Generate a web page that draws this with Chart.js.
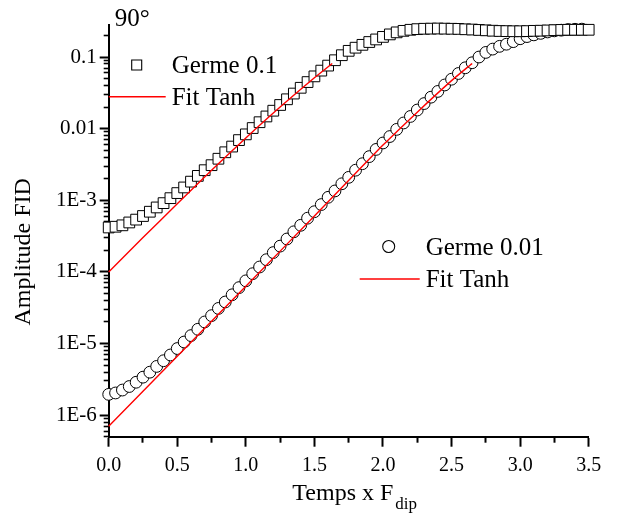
<!DOCTYPE html>
<html>
<head>
<meta charset="utf-8">
<script src="https://cdn.jsdelivr.net/npm/chart.js@4"></script>
<style>
  html, body { margin: 0; padding: 0; background: #fff; }
  #wrap { width: 634px; height: 516px; }
</style>
</head>
<body>
<div id="wrap"><canvas id="c" width="634" height="516"></canvas></div>
<script>
// ---- data ----
const temps = [0.00,0.05,0.10,0.15,0.20,0.25,0.30,0.35,0.40,0.45,
  0.50,0.55,0.60,0.65,0.70,0.75,0.80,0.85,0.90,0.95,
  1.00,1.05,1.10,1.15,1.20,1.25,1.30,1.35,1.40,1.45,
  1.50,1.55,1.60,1.65,1.70,1.75,1.80,1.85,1.90,1.95,
  2.00,2.05,2.10,2.15,2.20,2.25,2.30,2.35,2.40,2.45,
  2.50,2.55,2.60,2.65,2.70,2.75,2.80,2.85,2.90,2.95,
  3.00,3.05,3.10,3.15,3.20,3.25,3.30,3.35,3.40,3.45,
  3.50,3.55,3.60,3.65,3.70,3.75,3.80];

const germe01 = [4.17e-4,4.27e-4,4.47e-4,4.90e-4,5.37e-4,6.03e-4,6.92e-4,7.94e-4,9.12e-4,1.07e-3,
  1.26e-3,1.51e-3,1.82e-3,2.19e-3,2.63e-3,3.09e-3,3.80e-3,4.68e-3,5.62e-3,6.92e-3,
  8.32e-3,1.02e-2,1.23e-2,1.48e-2,1.78e-2,2.14e-2,2.57e-2,3.09e-2,3.72e-2,4.47e-2,
  5.37e-2,6.46e-2,7.59e-2,9.02e-2,0.106,0.122,0.135,0.148,0.162,0.176,
  0.191,0.207,0.221,0.232,0.240,0.245,0.248,0.249,0.250,0.249,
  0.248,0.247,0.244,0.242,0.239,0.236,0.233,0.231,0.230,0.229,
  0.229,0.230,0.232,0.233,0.235,0.237,0.239,0.240,0.240,0.240,
  0.240,0.240,0.239,0.238,0.238,0.238,0.238];

const germe001 = [1.95e-6,2.04e-6,2.24e-6,2.51e-6,2.88e-6,3.39e-6,3.98e-6,4.79e-6,5.75e-6,6.92e-6,
  8.51e-6,1.05e-5,1.29e-5,1.58e-5,2.00e-5,2.45e-5,3.09e-5,3.80e-5,4.79e-5,6.03e-5,
  7.50e-5,9.44e-5,1.17e-4,1.48e-4,1.86e-4,2.29e-4,2.88e-4,3.63e-4,4.47e-4,5.62e-4,
  6.92e-4,8.71e-4,1.10e-3,1.35e-3,1.70e-3,2.09e-3,2.63e-3,3.24e-3,4.07e-3,5.13e-3,
  6.31e-3,7.76e-3,9.77e-3,1.20e-2,1.48e-2,1.82e-2,2.24e-2,2.75e-2,3.31e-2,4.07e-2,
  4.90e-2,5.89e-2,7.08e-2,8.32e-2,0.100,0.116,0.129,0.141,0.151,0.164,
  0.180,0.193,0.204,0.214,0.224,0.232,0.237,0.242,0.244,0.245];

const fit1Temps = [0, 0.25, 0.5, 0.75, 1.0, 1.25, 1.5, 1.63];
const fit1Vals  = [1.0e-4, 3.02e-4, 8.91e-4, 2.63e-3, 7.41e-3, 2.00e-2, 5.13e-2, 8.13e-2];
const fit2Temps = [0, 0.5, 1.0, 1.5, 2.0, 2.25, 2.5, 2.65];
const fit2Vals  = [7.0e-7, 6.65e-6, 6.31e-5, 6.03e-4, 5.89e-3, 1.70e-2, 4.68e-2, 8.13e-2];

const xMajorTicks = [0.0, 0.5, 1.0, 1.5, 2.0, 2.5, 3.0, 3.5];
const xMinorTicks = [0.25, 0.75, 1.25, 1.75, 2.25, 2.75, 3.25];
const yMajorTicks = [1e-6, 1e-5, 1e-4, 1e-3, 0.01, 0.1];
const yMajorLabels = ['1E-6', '1E-5', '1E-4', '1E-3', '0.01', '0.1'];
const yMinorMult = [2, 3, 4, 5, 6, 7, 8, 9];
const yMin = 5e-7, yMax = 0.28, xMin = 0, xMax = 3.5;

const seriesLabels = ['Germe 0.1', 'Fit Tanh', 'Germe 0.01', 'Fit Tanh'];
const panelTitle = '90°';
const yTitle = 'Amplitude FID';
const xTitleMain = 'Temps x F';
const xTitleSub = 'dip';

// ---- build ----
const pts = (xs, ys) => ys.map((v, i) => ({ x: xs[i], y: v }));
const yMinorTicks = [];
[1e-7, 1e-6, 1e-5, 1e-4, 1e-3, 1e-2, 1e-1].forEach(d => {
  yMinorMult.forEach(m => { const v = d * m; if (v >= yMin && v <= yMax) yMinorTicks.push(v); });
});

const SERIF = '"Liberation Serif", "Times New Roman", serif';
const AREA = { left: 108.7, right: 588.7, top: 25, bottom: 436.7 };

const textPlugin = {
  id: 'texts',
  afterDraw(chart) {
    const ctx = chart.ctx;
    const ca = chart.chartArea;
    ctx.save();
    ctx.fillStyle = '#000';
    ctx.textBaseline = 'alphabetic';
    ctx.textAlign = 'left';
    // panel title
    ctx.font = '25px ' + SERIF;
    ctx.fillText(panelTitle, ca.left + 6, ca.top + 1);

    // legend 1
    ctx.font = '25px ' + SERIF;
    ctx.lineWidth = 1.1;
    ctx.strokeStyle = '#000';
    ctx.fillStyle = '#fff';
    ctx.beginPath(); ctx.rect(ca.left + 23, 60, 10, 10); ctx.fill(); ctx.stroke();
    ctx.fillStyle = '#000';
    ctx.fillText(seriesLabels[0], ca.left + 63, 73);
    ctx.strokeStyle = '#ff0000'; ctx.lineWidth = 1.4;
    ctx.beginPath(); ctx.moveTo(ca.left, 96.7); ctx.lineTo(ca.left + 57, 96.7); ctx.stroke();
    ctx.fillText(seriesLabels[1], ca.left + 63, 105);

    // legend 2
    ctx.strokeStyle = '#000'; ctx.lineWidth = 1.1; ctx.fillStyle = '#fff';
    ctx.beginPath(); ctx.arc(ca.left + 280, 246.5, 6, 0, Math.PI * 2); ctx.fill(); ctx.stroke();
    ctx.fillStyle = '#000';
    ctx.fillText(seriesLabels[2], ca.left + 317, 255);
    ctx.strokeStyle = '#ff0000'; ctx.lineWidth = 1.4;
    ctx.beginPath(); ctx.moveTo(ca.left + 251, 279); ctx.lineTo(ca.left + 311, 279); ctx.stroke();
    ctx.fillText(seriesLabels[3], ca.left + 317, 287);

    // x title with subscript
    ctx.font = '24px ' + SERIF;
    const wMain = ctx.measureText(xTitleMain).width;
    ctx.font = '17px ' + SERIF;
    const wSub = ctx.measureText(xTitleSub).width;
    const cx = (ca.left + ca.right) / 2 + 6;
    const x0 = cx - (wMain + wSub + 2) / 2;
    ctx.font = '24px ' + SERIF;
    ctx.fillText(xTitleMain, x0, 500);
    ctx.font = '17px ' + SERIF;
    ctx.fillText(xTitleSub, x0 + wMain + 2, 509);

    // y title
    ctx.font = '24px ' + SERIF;
    ctx.translate(30, (ca.top + ca.bottom) / 2 + 21);
    ctx.rotate(-Math.PI / 2);
    ctx.textAlign = 'center';
    ctx.fillText(yTitle, 0, 0);
    ctx.restore();
  }
};

const tickFont = { family: SERIF, size: 21 };

new Chart(document.getElementById('c'), {
  type: 'scatter',
  data: {
    datasets: [
      { label: seriesLabels[1], data: pts(fit1Temps, fit1Vals), showLine: true, borderColor: '#ff0000',
        borderWidth: 1.4, pointRadius: 0, tension: 0.2, order: 0, clip: false },
      { label: seriesLabels[3], data: pts(fit2Temps, fit2Vals), showLine: true, borderColor: '#ff0000',
        borderWidth: 1.4, pointRadius: 0, tension: 0.2, order: 0, clip: false },
      { label: seriesLabels[0], data: pts(temps, germe01), pointStyle: 'rect', pointRadius: 7.6,
        borderColor: '#000', backgroundColor: '#fff', borderWidth: 1, order: 1, clip: false },
      { label: seriesLabels[2], data: pts(temps, germe001), pointStyle: 'circle', pointRadius: 5.9,
        borderColor: '#000', backgroundColor: '#fff', borderWidth: 1, order: 1, clip: false }
    ]
  },
  options: {
    responsive: false,
    animation: false,
    devicePixelRatio: 1,
    layout: { padding: { top: AREA.top, right: 634 - AREA.right, left: 0, bottom: 0 } },
    plugins: { legend: { display: false }, tooltip: { enabled: false }, title: { display: false } },
    events: [],
    scales: {
      x: {
        type: 'linear', position: 'bottom', weight: 1, min: xMin, max: xMax,
        afterBuildTicks: s => { s.ticks = xMajorTicks.map(v => ({ value: v })); },
        afterFit: s => { s.height = 516 - AREA.bottom; },
        ticks: { autoSkip: false, maxRotation: 0, padding: 7, color: '#000', font: { family: SERIF, size: 20 },
          callback: v => Number(v).toFixed(1) },
        grid: { drawOnChartArea: false, tickLength: 10, tickWidth: 2, tickColor: '#000' },
        border: { display: true, color: '#000', width: 2 }
      },
      xMinor: {
        type: 'linear', position: 'bottom', weight: 0, min: xMin, max: xMax,
        afterBuildTicks: s => { s.ticks = xMinorTicks.map(v => ({ value: v })); },
        afterFit: s => { s.height = 0; },
        ticks: { display: false, autoSkip: false },
        grid: { drawOnChartArea: false, tickLength: 6, tickWidth: 2, tickColor: '#000' },
        border: { display: false }
      },
      y: {
        type: 'logarithmic', position: 'left', weight: 1, min: yMin, max: yMax,
        afterBuildTicks: s => { s.ticks = yMajorTicks.map(v => ({ value: v, major: true })); },
        afterFit: s => { s.width = AREA.left; },
        ticks: { autoSkip: false, padding: 3, color: '#000', font: tickFont,
          callback: v => { const i = yMajorTicks.findIndex(t => Math.abs(t - v) / t < 1e-6); return i >= 0 ? yMajorLabels[i] : ''; } },
        grid: { drawOnChartArea: false, tickLength: 9, tickWidth: 2, tickColor: '#000' },
        border: { display: true, color: '#000', width: 2 }
      },
      yMinor: {
        type: 'logarithmic', position: 'left', weight: 0, min: yMin, max: yMax,
        afterBuildTicks: s => { s.ticks = yMinorTicks.map(v => ({ value: v })); },
        afterFit: s => { s.width = 0; },
        ticks: { display: false, autoSkip: false },
        grid: { drawOnChartArea: false, tickLength: 5, tickWidth: 1.6, tickColor: '#000' },
        border: { display: false }
      }
    }
  },
  plugins: [textPlugin]
});
</script>
</body>
</html>
